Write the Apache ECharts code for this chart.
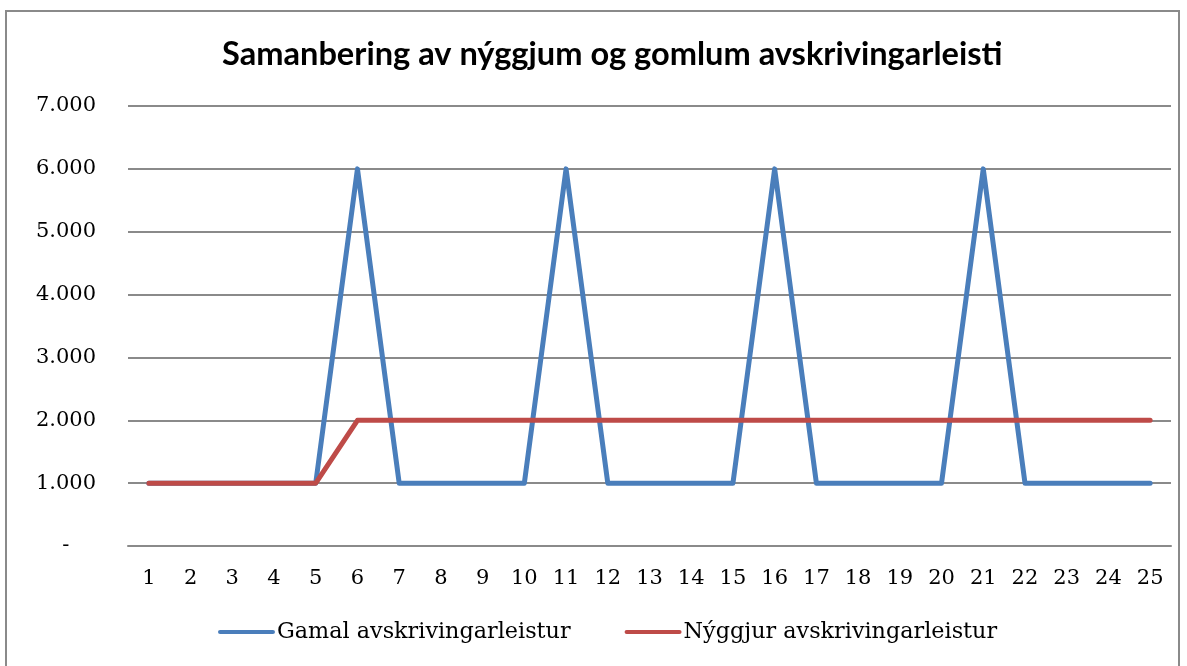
<!DOCTYPE html>
<html><head><meta charset="utf-8">
<script src="https://cdn.jsdelivr.net/npm/echarts@6/dist/echarts.min.js"></script>
<style>html,body{margin:0;padding:0;background:#fff}#c{width:1187px;height:666px}
#frame{position:absolute;left:5px;top:10px;width:1175px;height:670px;border:2px solid #8a8a8a;box-sizing:border-box;pointer-events:none}</style>
</head><body><div id="c"></div><div id="frame"></div>
<script>
const title = "Samanbering av nýggjum og gomlum avskrivingarleisti";
const categories = ["1","2","3","4","5","6","7","8","9","10","11","12","13","14","15","16","17","18","19","20","21","22","23","24","25"];
const gamalName = "Gamal avskrivingarleistur";
const gamal = [1000,1000,1000,1000,1000,6000,1000,1000,1000,1000,6000,1000,1000,1000,1000,6000,1000,1000,1000,1000,6000,1000,1000,1000,1000];
const nyggjurName = "Nýggjur avskrivingarleistur";
const nyggjur = [1000,1000,1000,1000,1000,2000,2000,2000,2000,2000,2000,2000,2000,2000,2000,2000,2000,2000,2000,2000,2000,2000,2000,2000,2000];

const chart = echarts.init(document.getElementById('c'));
const serif = "'DejaVu Serif','Liberation Serif',serif";
const lineIcon = 'path://M2,0 L53,0 A2,2 0 0 1 53,4 L2,4 A2,2 0 0 1 2,0 Z';
chart.setOption({
  animation:false,
  backgroundColor:'#fff',
  title:{text:title,left:217,top:33,textStyle:{fontFamily:"Lato,'Open Sans',sans-serif",fontWeight:'bold',fontSize:32.6,color:'#000'}},
  grid:{left:128,right:16,top:106,bottom:120,containLabel:false},
  legend:{bottom:18,left:213,itemWidth:57,itemHeight:5,itemGap:54,
    textStyle:{fontFamily:serif,fontSize:22.3,color:'#000',padding:[0,0,0,-3]},
    data:[{name:gamalName,icon:lineIcon},{name:nyggjurName,icon:lineIcon}]},
  xAxis:{type:'category',data:categories,boundaryGap:true,
    axisLine:{show:true,lineStyle:{color:'#8a8a8a',width:2}},axisTick:{show:false},
    axisLabel:{fontFamily:serif,fontSize:21,color:'#000',margin:22}},
  yAxis:{type:'value',min:0,max:7000,interval:1000,
    axisLine:{show:false},axisTick:{show:false},
    splitLine:{lineStyle:{color:'#8a8a8a',width:2}},
    axisLabel:{fontFamily:serif,fontSize:21,color:'#000',margin:32,
      formatter:v=> v===0 ? '-    ' : (v/1000).toFixed(0)+'.000'}},
  series:[
    {name:gamalName,type:'line',data:gamal,showSymbol:false,symbol:'none',
      lineStyle:{color:'#4a7ebb',width:5,cap:'round',join:'round'},itemStyle:{color:'#4a7ebb'}},
    {name:nyggjurName,type:'line',data:nyggjur,showSymbol:false,symbol:'none',
      lineStyle:{color:'#be4b48',width:5,cap:'round',join:'round'},itemStyle:{color:'#be4b48'}}
  ]
});
</script></body></html>
